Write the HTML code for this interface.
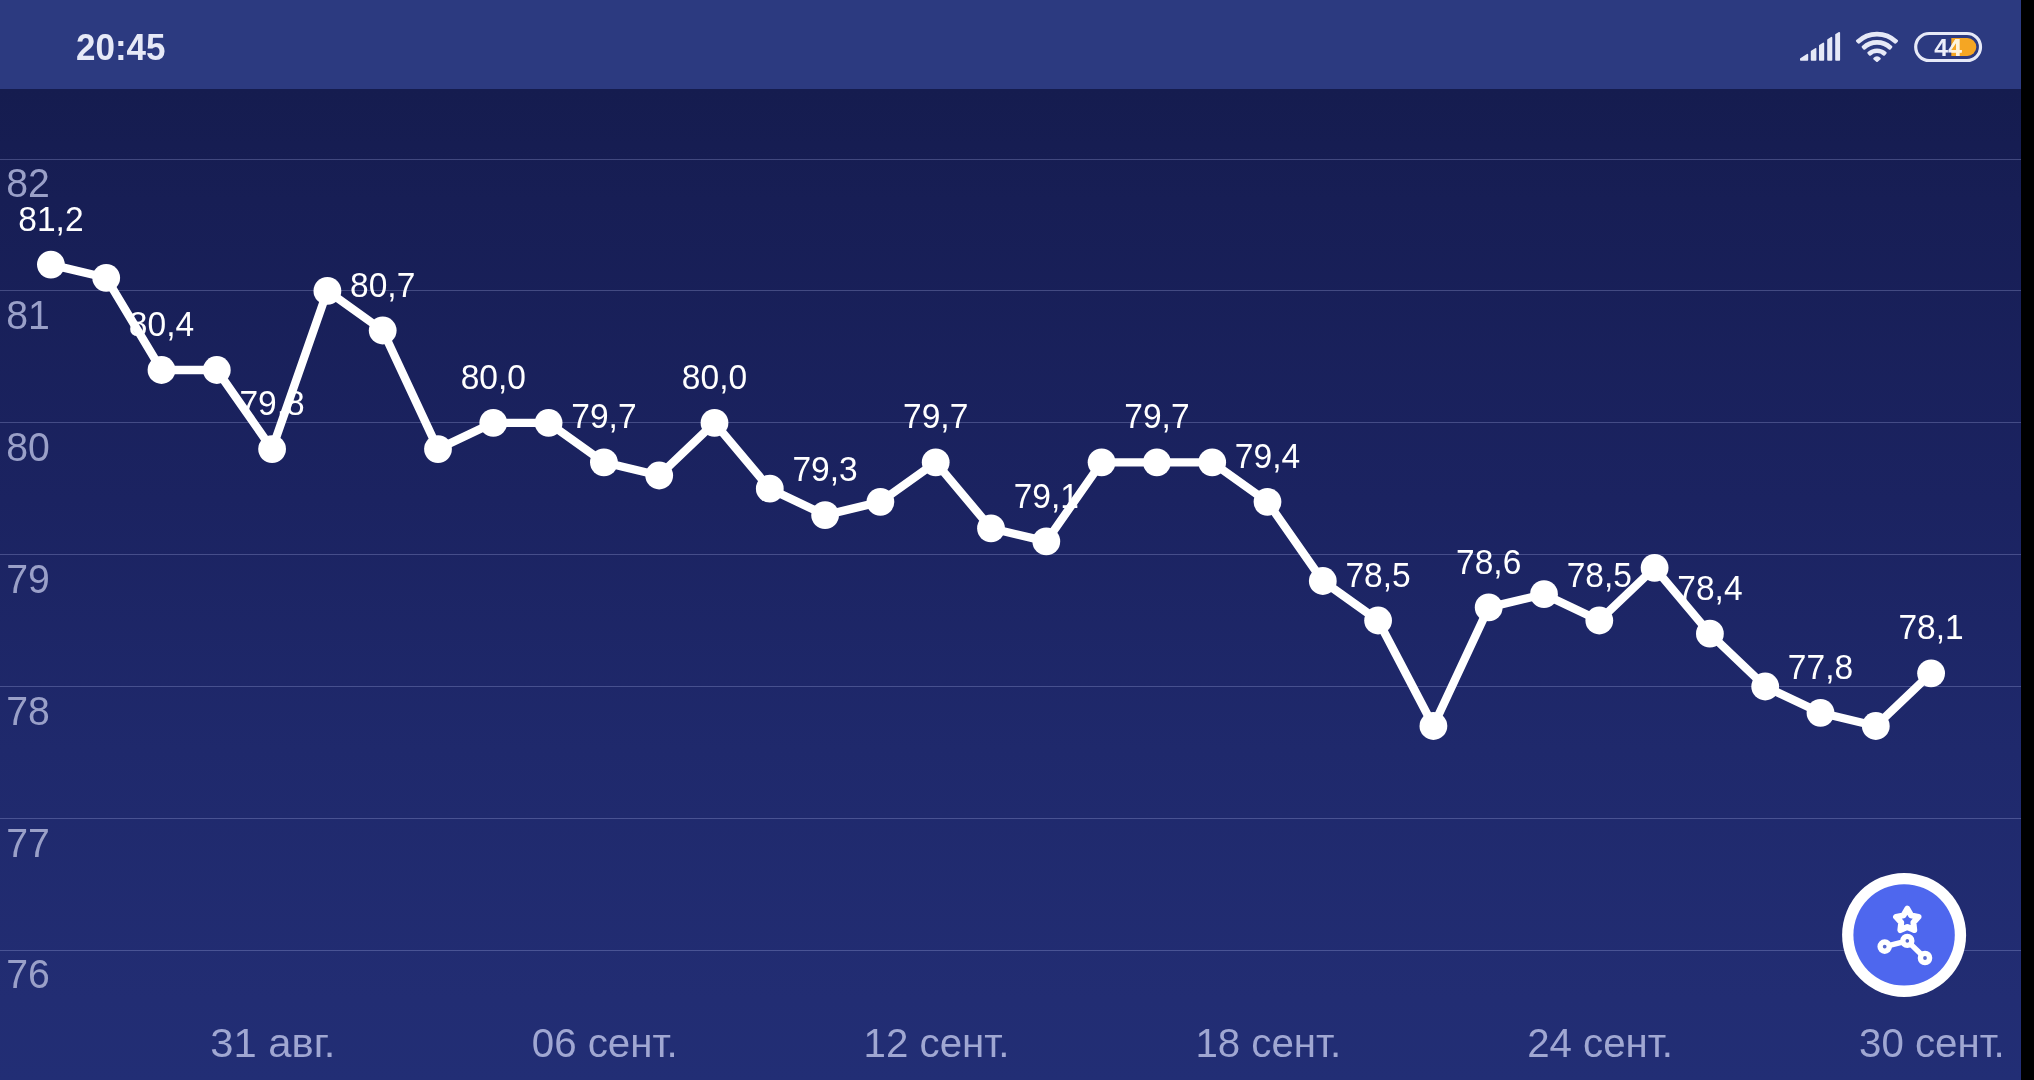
<!DOCTYPE html>
<html><head><meta charset="utf-8"><title>chart</title>
<style>
html,body{margin:0;padding:0;background:#000;}
body{width:2034px;height:1080px;overflow:hidden;position:relative;font-family:"Liberation Sans",sans-serif;}
#app{position:absolute;left:0;top:0;width:2021px;height:1080px;overflow:hidden;background:linear-gradient(to bottom,#151c4f 0px,#151c4f 89px,#171e55 200px,#1b2361 500px,#1f296c 750px,#222d73 1000px,#222e75 1080px);}
#sb{position:absolute;left:0;top:0;width:2021px;height:89px;background:#2c3a80;}
svg{position:absolute;left:0;top:0;will-change:transform;}
text{font-family:"Liberation Sans",sans-serif;}
.yl{font-size:40.8px;fill:#9aa0c8;}
.xl{font-size:40px;fill:#a0a7d2;text-anchor:middle;}
.vl{font-size:34.6px;fill:#ffffff;text-anchor:middle;}
</style></head><body>
<div id="app">
<div id="sb"></div>
<svg width="2021" height="1080" viewBox="0 0 2021 1080">

<rect x="0" y="159" width="2021" height="1" fill="#c4ccff" fill-opacity="0.25"/>
<rect x="0" y="290" width="2021" height="1" fill="#c4ccff" fill-opacity="0.25"/>
<rect x="0" y="422" width="2021" height="1" fill="#c4ccff" fill-opacity="0.25"/>
<rect x="0" y="554" width="2021" height="1" fill="#c4ccff" fill-opacity="0.25"/>
<rect x="0" y="686" width="2021" height="1" fill="#c4ccff" fill-opacity="0.25"/>
<rect x="0" y="818" width="2021" height="1" fill="#c4ccff" fill-opacity="0.25"/>
<rect x="0" y="950" width="2021" height="1" fill="#c4ccff" fill-opacity="0.25"/>
<text class="yl" x="6.3" y="197.3" textLength="43.6" lengthAdjust="spacingAndGlyphs">82</text>
<text class="yl" x="6.3" y="329.1" textLength="43.6" lengthAdjust="spacingAndGlyphs">81</text>
<text class="yl" x="6.3" y="461.0" textLength="43.6" lengthAdjust="spacingAndGlyphs">80</text>
<text class="yl" x="6.3" y="592.8" textLength="43.6" lengthAdjust="spacingAndGlyphs">79</text>
<text class="yl" x="6.3" y="724.7" textLength="43.6" lengthAdjust="spacingAndGlyphs">78</text>
<text class="yl" x="6.3" y="856.5" textLength="43.6" lengthAdjust="spacingAndGlyphs">77</text>
<text class="yl" x="6.3" y="988.3" textLength="43.6" lengthAdjust="spacingAndGlyphs">76</text>
<text class="xl" x="272.9" y="1057.3" textLength="125.1" lengthAdjust="spacingAndGlyphs">31 авг.</text>
<text class="xl" x="604.7" y="1057.3" textLength="145.8" lengthAdjust="spacingAndGlyphs">06 сент.</text>
<text class="xl" x="936.5" y="1057.3" textLength="145.8" lengthAdjust="spacingAndGlyphs">12 сент.</text>
<text class="xl" x="1268.3" y="1057.3" textLength="145.8" lengthAdjust="spacingAndGlyphs">18 сент.</text>
<text class="xl" x="1600.1" y="1057.3" textLength="145.8" lengthAdjust="spacingAndGlyphs">24 сент.</text>
<text class="xl" x="1931.9" y="1057.3" textLength="145.8" lengthAdjust="spacingAndGlyphs">30 сент.</text>
<text class="vl" x="50.9" y="230.7" textLength="65.3" lengthAdjust="spacingAndGlyphs">81,2</text>
<text class="vl" x="161.5" y="336.1" textLength="65.3" lengthAdjust="spacingAndGlyphs">80,4</text>
<text class="vl" x="272.1" y="415.2" textLength="65.3" lengthAdjust="spacingAndGlyphs">79,8</text>
<text class="vl" x="382.7" y="296.6" textLength="65.3" lengthAdjust="spacingAndGlyphs">80,7</text>
<text class="vl" x="493.3" y="388.9" textLength="65.3" lengthAdjust="spacingAndGlyphs">80,0</text>
<text class="vl" x="603.9" y="428.4" textLength="65.3" lengthAdjust="spacingAndGlyphs">79,7</text>
<text class="vl" x="714.5" y="388.9" textLength="65.3" lengthAdjust="spacingAndGlyphs">80,0</text>
<text class="vl" x="825.1" y="481.2" textLength="65.3" lengthAdjust="spacingAndGlyphs">79,3</text>
<text class="vl" x="935.7" y="428.4" textLength="65.3" lengthAdjust="spacingAndGlyphs">79,7</text>
<text class="vl" x="1046.3" y="507.5" textLength="65.3" lengthAdjust="spacingAndGlyphs">79,1</text>
<text class="vl" x="1156.9" y="428.4" textLength="65.3" lengthAdjust="spacingAndGlyphs">79,7</text>
<text class="vl" x="1267.5" y="468.0" textLength="65.3" lengthAdjust="spacingAndGlyphs">79,4</text>
<text class="vl" x="1378.1" y="586.6" textLength="65.3" lengthAdjust="spacingAndGlyphs">78,5</text>
<text class="vl" x="1488.7" y="573.5" textLength="65.3" lengthAdjust="spacingAndGlyphs">78,6</text>
<text class="vl" x="1599.3" y="586.6" textLength="65.3" lengthAdjust="spacingAndGlyphs">78,5</text>
<text class="vl" x="1709.9" y="599.8" textLength="65.3" lengthAdjust="spacingAndGlyphs">78,4</text>
<text class="vl" x="1820.5" y="678.9" textLength="65.3" lengthAdjust="spacingAndGlyphs">77,8</text>
<text class="vl" x="1931.1" y="639.4" textLength="65.3" lengthAdjust="spacingAndGlyphs">78,1</text>
<polyline points="50.9,264.6 106.2,277.8 161.5,370.0 216.8,370.0 272.1,449.1 327.4,290.9 382.7,330.5 438.0,449.1 493.3,422.8 548.6,422.8 603.9,462.3 659.2,475.5 714.5,422.8 769.8,488.7 825.1,515.1 880.4,501.9 935.7,462.3 991.0,528.3 1046.3,541.4 1101.6,462.3 1156.9,462.3 1212.2,462.3 1267.5,501.9 1322.8,581.0 1378.1,620.5 1433.4,726.0 1488.7,607.4 1544.0,594.2 1599.3,620.5 1654.6,567.8 1709.9,633.7 1765.2,686.5 1820.5,712.8 1875.8,726.0 1931.1,673.3" fill="none" stroke="#fff" stroke-width="8.3" stroke-linejoin="round" stroke-linecap="round"/>
<circle cx="50.9" cy="264.6" r="13.9" fill="#fff"/>
<circle cx="106.2" cy="277.8" r="13.9" fill="#fff"/>
<circle cx="161.5" cy="370.0" r="13.9" fill="#fff"/>
<circle cx="216.8" cy="370.0" r="13.9" fill="#fff"/>
<circle cx="272.1" cy="449.1" r="13.9" fill="#fff"/>
<circle cx="327.4" cy="290.9" r="13.9" fill="#fff"/>
<circle cx="382.7" cy="330.5" r="13.9" fill="#fff"/>
<circle cx="438.0" cy="449.1" r="13.9" fill="#fff"/>
<circle cx="493.3" cy="422.8" r="13.9" fill="#fff"/>
<circle cx="548.6" cy="422.8" r="13.9" fill="#fff"/>
<circle cx="603.9" cy="462.3" r="13.9" fill="#fff"/>
<circle cx="659.2" cy="475.5" r="13.9" fill="#fff"/>
<circle cx="714.5" cy="422.8" r="13.9" fill="#fff"/>
<circle cx="769.8" cy="488.7" r="13.9" fill="#fff"/>
<circle cx="825.1" cy="515.1" r="13.9" fill="#fff"/>
<circle cx="880.4" cy="501.9" r="13.9" fill="#fff"/>
<circle cx="935.7" cy="462.3" r="13.9" fill="#fff"/>
<circle cx="991.0" cy="528.3" r="13.9" fill="#fff"/>
<circle cx="1046.3" cy="541.4" r="13.9" fill="#fff"/>
<circle cx="1101.6" cy="462.3" r="13.9" fill="#fff"/>
<circle cx="1156.9" cy="462.3" r="13.9" fill="#fff"/>
<circle cx="1212.2" cy="462.3" r="13.9" fill="#fff"/>
<circle cx="1267.5" cy="501.9" r="13.9" fill="#fff"/>
<circle cx="1322.8" cy="581.0" r="13.9" fill="#fff"/>
<circle cx="1378.1" cy="620.5" r="13.9" fill="#fff"/>
<circle cx="1433.4" cy="726.0" r="13.9" fill="#fff"/>
<circle cx="1488.7" cy="607.4" r="13.9" fill="#fff"/>
<circle cx="1544.0" cy="594.2" r="13.9" fill="#fff"/>
<circle cx="1599.3" cy="620.5" r="13.9" fill="#fff"/>
<circle cx="1654.6" cy="567.8" r="13.9" fill="#fff"/>
<circle cx="1709.9" cy="633.7" r="13.9" fill="#fff"/>
<circle cx="1765.2" cy="686.5" r="13.9" fill="#fff"/>
<circle cx="1820.5" cy="712.8" r="13.9" fill="#fff"/>
<circle cx="1875.8" cy="726.0" r="13.9" fill="#fff"/>
<circle cx="1931.1" cy="673.3" r="13.9" fill="#fff"/>

<g fill="#e6e9f7">
<!-- signal -->
<text x="76" y="60.2" font-size="36.2" font-weight="bold" fill="#e6e9f7" stroke="none" textLength="89.5" lengthAdjust="spacingAndGlyphs">20:45</text>
<g stroke="#e6e9f7" stroke-width="1.6" stroke-linejoin="round">
<path d="M1800.8 60 L1800.8 58.9 L1807.4 54.6 L1807.4 60 Z"/>
<path d="M1811.6 60 L1811.6 51.4 L1815.6 48.8 L1815.6 60 Z"/>
<path d="M1819.8 60 L1819.8 45.7 L1823.4 43.4 L1823.4 60 Z"/>
<path d="M1828 60 L1828 40 L1831.5 37.7 L1831.5 60 Z"/>
<path d="M1836 60 L1836 34.6 L1839.3 32.8 L1839.3 60 Z"/>
</g>
</g>
<!-- wifi -->
<g fill="#e6e9f7" stroke="#e6e9f7" stroke-width="2.4" stroke-linejoin="round"><path d="M1857.11 40.94 A28.900000000000002 28.900000000000002 0 0 1 1896.89 40.94 L1895.38 42.53 A26.7 26.7 0 0 0 1858.62 42.53 Z"/><path d="M1862.82 46.96 A20.6 20.6 0 0 1 1891.18 46.96 L1889.67 48.55 A18.4 18.4 0 0 0 1864.33 48.55 Z"/><path d="M1868.53 52.98 A12.299999999999999 12.299999999999999 0 0 1 1885.47 52.98 L1883.95 54.57 A10.1 10.1 0 0 0 1870.05 54.57 Z"/><path d="M1877 60.7 L1874.40 58.67 A3.3 3.3 0 0 1 1879.60 58.67 Z"/></g>
<!-- battery -->
<rect x="1915.7" y="33.5" width="64.8" height="27" rx="13.5" ry="13.5" fill="none" stroke="#e6e9f7" stroke-width="3.2"/>
<path d="M1951.3 38 L1967.3 38 A9 9 0 0 1 1967.3 56 L1951.3 56 Z" fill="#f5a623"/>
<text x="1948.1" y="55.9" font-size="23.3" font-weight="bold" fill="#eceefa" text-anchor="middle" textLength="27.6" lengthAdjust="spacingAndGlyphs">44</text>
<clipPath id="oc"><path d="M1951.3 38 L1967.3 38 A9 9 0 0 1 1967.3 56 L1951.3 56 Z"/></clipPath>
<text x="1948.1" y="55.9" font-size="23.3" font-weight="bold" fill="#fff4dc" text-anchor="middle" textLength="27.6" lengthAdjust="spacingAndGlyphs" clip-path="url(#oc)">44</text>
<!-- fab -->
<circle cx="1904.1" cy="934.9" r="62" fill="#fff"/>
<circle cx="1904.1" cy="934.9" r="50.7" fill="#4e67ee"/>
<g stroke="#fff" stroke-width="5.3" fill="none" stroke-linecap="round" stroke-linejoin="round">
<path d="M1884.7 946.6 L1907.3 940.9 L1925 958"/>
</g>
<circle cx="1884.7" cy="946.6" r="4.6" fill="#5668cf" stroke="#fff" stroke-width="5.4"/>
<circle cx="1907.3" cy="940.9" r="4.5" fill="#5668cf" stroke="#fff" stroke-width="5.4"/>
<circle cx="1925" cy="958" r="4.6" fill="#5668cf" stroke="#fff" stroke-width="5.4"/>

<polygon points="1907.30,908.70 1911.06,915.32 1918.52,916.85 1913.39,922.48 1914.24,930.05 1907.30,926.90 1900.36,930.05 1901.21,922.48 1896.08,916.85 1903.54,915.32" fill="#4e67ee" stroke="#fff" stroke-width="6" stroke-linejoin="round"/>
</svg></div></body></html>
